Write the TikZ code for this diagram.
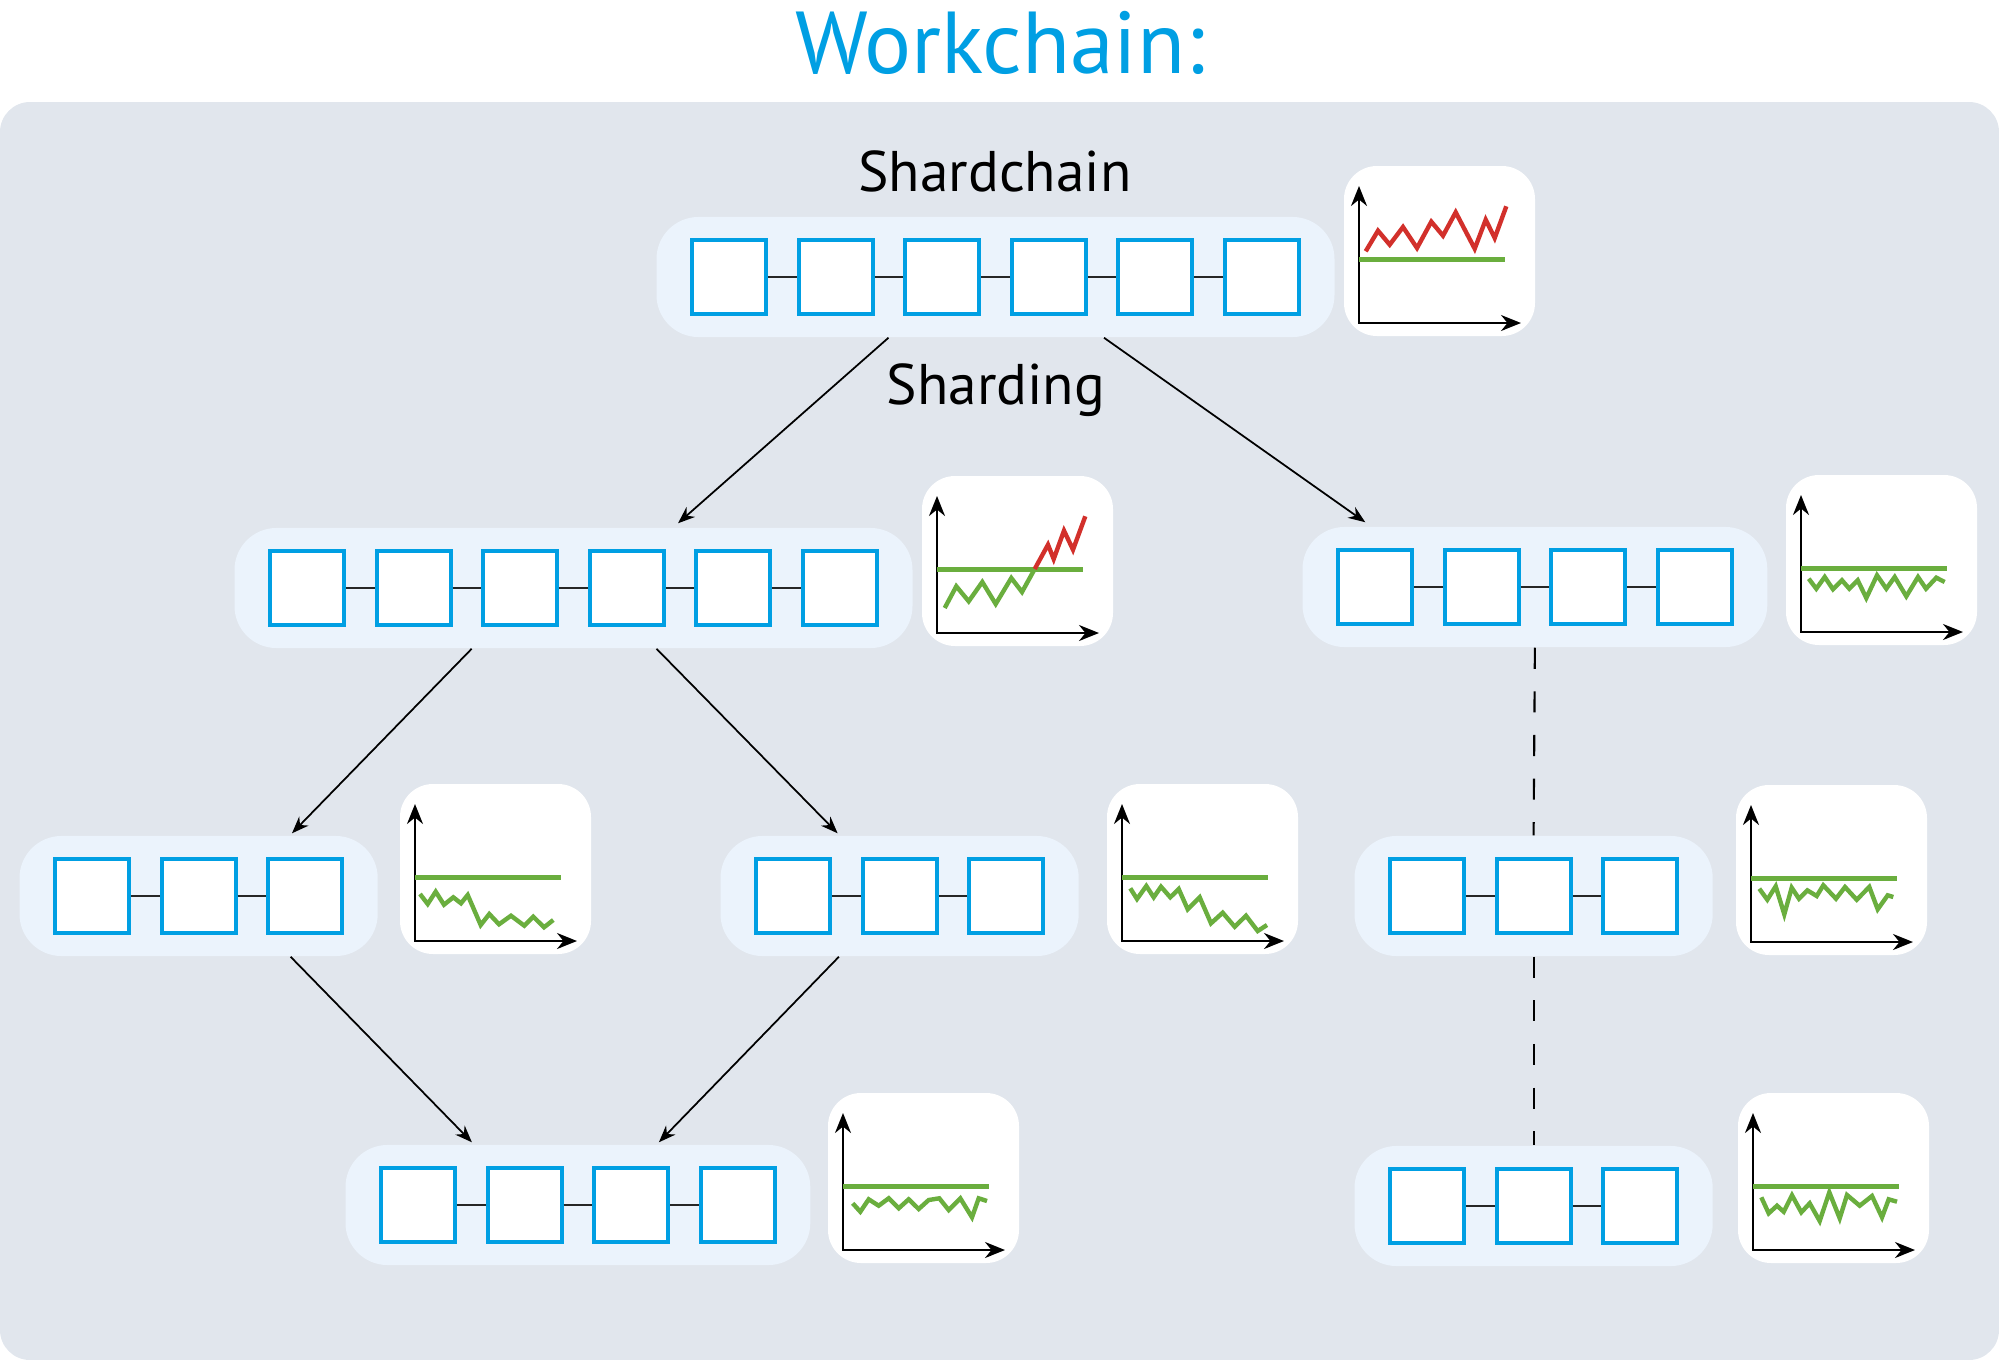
\documentclass[tikz,border=0pt]{standalone}
\usepackage{fontspec}
\setmainfont{PT Sans}
\usetikzlibrary{arrows.meta,calc}
\definecolor{chainblue}{HTML}{009FE3}
\definecolor{wcgrey}{HTML}{E1E6ED}
\definecolor{shardbg}{HTML}{EBF3FC}
\definecolor{loadgreen}{HTML}{6AAE3E}
\definecolor{loadred}{HTML}{D2302B}

\tikzset{
  block/.style={draw=chainblue, line width=1.1pt, fill=white, minimum size=0.74cm, inner sep=0pt},
  link/.style={line width=0.5pt, black!85},
  shardbox/.style={fill=shardbg, rounded corners=0.42cm, minimum height=1.2cm, inner sep=0pt},
  split/.style={line width=0.5pt, -{Stealth[length=0.17cm,width=0.13cm]}},
  axis/.style={line width=0.65pt, {Stealth[length=0.2cm,width=0.16cm]}-{Stealth[length=0.2cm,width=0.16cm]}},
  limit/.style={loadgreen, line width=1.2pt},
  load/.style={line width=1.25pt, line join=miter},
}

% name, x of first block, y, number of blocks
\newcommand{\shardchain}[4]{%
  \pgfmathsetmacro\chainw{(#4-1)*106.6+145}
  \node[shardbox, minimum width=\chainw*0.01cm] (#1) at ({#2+(#4-1)*53.3},#3) {};
  \foreach \i in {1,...,#4}
    \node[block] (#1-\i) at ({#2+(\i-1)*106.6},#3) {};
  \foreach \i in {2,...,#4}{
    \pgfmathtruncatemacro\k{\i-1}
    \draw[link] (#1-\k) -- (#1-\i);
  }
}

% origin x, origin y, load curve
\newcommand{\loadchart}[3]{%
  \begin{scope}[shift={(#1,#2)}, yscale=-1]
    \fill[white, rounded corners=0.33cm] (-15,-13) rectangle (176,157);
    \draw[axis] (0,137) -- (0,0) -- (162,0);
    \draw[limit] (0,63.5) -- (145.5,63.5);
    #3
  \end{scope}}

\begin{document}
\begin{tikzpicture}[x=0.01cm, y=-0.01cm]
\useasboundingbox (0,0) rectangle (1999,1360);
\fill[wcgrey, rounded corners=0.3cm] (0,102) rectangle (1999,1360);

\node[text=chainblue, font=\fontsize{25}{30}\selectfont, anchor=base] (title) at (1000,73) {Workchain:};
\node[font=\fontsize{16.3}{19}\selectfont, anchor=base] (shardchain) at (995,191) {Shardchain};
\node[font=\fontsize{16.3}{19}\selectfont, anchor=base] (sharding) at (996,404) {Sharding};

% chains
\shardchain{sc}{729}{277}{6}
\shardchain{lt}{307}{588}{6}
\shardchain{rt}{1375}{587}{4}
\shardchain{a}{92}{896}{3}
\shardchain{b}{793}{896}{3}
\shardchain{c}{1427}{896}{3}
\shardchain{d}{418}{1205}{4}
\shardchain{e}{1427}{1206}{3}

% splits and merges
\draw[split] ($(sc.south)+(-107,0)$) -- ($(lt.north)+(104.5,-4)$);
\draw[split] ($(sc.south)+(108.5,0)$) -- ($(rt.north)+(-169.6,-4)$);
\draw[split] ($(lt.south)+(-101.8,0)$) -- ($(a.north)+(93.4,-2)$);
\draw[split] ($(lt.south)+(83,0)$) -- ($(b.north)+(-62,-2)$);
\draw[split] ($(a.south)+(92,0)$) -- ($(d.north)+(-106,-2)$);
\draw[split] ($(b.south)+(-60.7,0)$) -- ($(d.north)+(81,-2)$);
\draw[link, black, line width=0.6pt, dash pattern=on 6pt off 6.4pt] (rt.south) -- (c.north);
\draw[link, black, line width=0.6pt, dash pattern=on 6pt off 6.4pt] (c.south) -- (e.north);

% load charts
\loadchart{1359}{323}{\draw[load, loadred] (6.7,71.7) -- (19,92.3) -- (30.7,78.3) -- (44,96) -- (58,75) -- (72.3,101.3) -- (84,87.3) -- (96.7,110.7) -- (115.7,74.3) -- (126.7,103.3) -- (135.7,85) -- (147.3,116.7);}
\loadchart{937}{633}{\draw[load, loadgreen] (7.7,25) -- (19.3,46.7) -- (31.7,31.7) -- (45.3,51) -- (58.7,29) -- (74.3,55) -- (85,41) -- (97.7,64);
  \draw[load, loadred] (97.7,64) -- (111,88.3) -- (116.7,74) -- (127,102.3) -- (136,83.3) -- (148.3,116.7);}
\loadchart{1801}{632}{\draw[load, loadgreen] (7.7,53.3) -- (15.3,43.3) -- (23.7,55) -- (32,42.7) -- (41,51.7) -- (48.3,43.3) -- (56.7,51.7) -- (65.3,34) -- (76,56.7) -- (85.3,43.3) -- (93.7,55) -- (105.3,35.7) -- (117,55) -- (125,43.3) -- (135.3,54.3) -- (143.7,50);}
\loadchart{415}{941}{\draw[load, loadgreen] (5,47) -- (12.7,37) -- (20.7,49.3) -- (29,36.3) -- (38.3,43.7) -- (46,37.7) -- (52.7,46) -- (65.7,16) -- (74.3,27) -- (84,16.7) -- (96,25.3) -- (109.3,15.3) -- (118.3,24.3) -- (129,13.7) -- (138.3,21);}
\loadchart{1122}{941}{\draw[load, loadgreen] (8.3,52.7) -- (15,42) -- (24.3,55) -- (31.7,43.7) -- (39,54.3) -- (48.3,43.7) -- (56.7,52) -- (65.7,31.7) -- (77.7,43.7) -- (89,17.7) -- (100.7,28.3) -- (112.7,14.3) -- (124,25.3) -- (135.7,10) -- (145,16);}
\loadchart{1751}{942}{\draw[load, loadgreen] (8.3,53.3) -- (16.3,42.3) -- (24.7,55.7) -- (33.3,27.7) -- (40.7,54.3) -- (48,43.3) -- (56.3,51.7) -- (65.7,46) -- (72.3,56.7) -- (85,43.3) -- (94,55) -- (105.7,42.3) -- (118.3,55) -- (126.7,32.7) -- (136.7,46.7) -- (142.3,45);}
\loadchart{843}{1250}{\draw[load, loadgreen] (9.7,46.7) -- (17.3,38.3) -- (25.7,50.7) -- (35.7,44.3) -- (45.7,51.7) -- (55.7,41.7) -- (65.7,50.7) -- (75.7,41) -- (85.7,50) -- (96.3,51.7) -- (105.7,40) -- (117.3,51.7) -- (129,32.7) -- (135.7,51.7) -- (144,49);}
\loadchart{1753}{1250}{\draw[load, loadgreen] (8.3,52.7) -- (15.7,36.7) -- (24,44.3) -- (30.7,38.3) -- (39,54.7) -- (48.3,37.7) -- (56.7,46.7) -- (66.7,29) -- (76.3,57.7) -- (86.7,31.7) -- (94,55) -- (106.7,44.3) -- (119,54) -- (129,32.7) -- (135.7,50.7) -- (144,48.3);}
\end{tikzpicture}
\end{document}
